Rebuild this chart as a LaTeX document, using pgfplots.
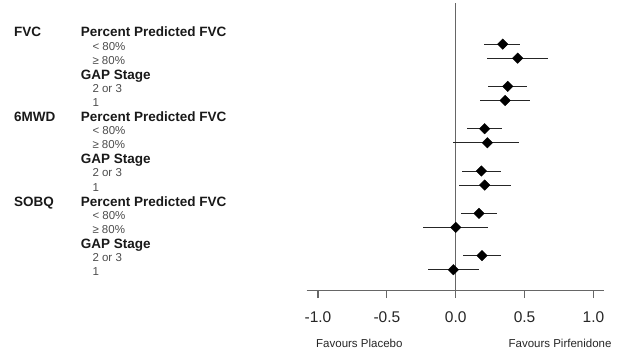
\documentclass[border=0pt]{standalone}
\usepackage{pgfplots}
\pgfplotsset{compat=1.18}
\usepackage{pgfplotstable}
\usepackage{fontspec}
\setmainfont{Liberation Sans}
\pgfplotstableread{
row est lo hi
-1  0.341 0.208 0.467
-2  0.450 0.225 0.668
-4  0.378 0.237 0.520
-5  0.358 0.176 0.542
-7  0.210 0.080 0.339
-8  0.230 -0.017 0.460
-10 0.186 0.048 0.327
-11 0.210 0.026 0.402
-13 0.169 0.038 0.298
-14 0.000 -0.240 0.232
-16 0.191 0.051 0.329
-17 -0.017 -0.199 0.171
}\forest
\newcommand\hdr{\fontsize{13.5bp}{16bp}\selectfont\bfseries}
\newcommand\sub{\fontsize{11.5bp}{13bp}\selectfont}
\begin{document}
\begin{tikzpicture}[x=1bp,y=1bp]
\path[use as bounding box] (0,0) rectangle (625,351);
\begin{axis}[
  at={(306.7bp,60.3bp)}, anchor=south west,
  scale only axis, width=297.6bp, height=287.4bp,
  xmin=-1.082, xmax=1.079,
  ymin=-18.49, ymax=1.894,
  axis x line=bottom, axis y line=none,
  x axis line style={-, draw=black!60, line width=1.2bp},
  xtick={-1,-0.5,0,0.5,1},
  xticklabels={-1.0,-0.5,0.0,0.5,1.0},
  ytick=\empty,
  tick align=outside, major tick length=7.5bp,
  xtick style={draw=black!60, line width=1.2bp},
  xticklabel style={font=\fontsize{15.5bp}{18bp}\selectfont, text=black!85, yshift=-10bp},
  clip=false,
]
\addplot[black!60, line width=1.2bp] coordinates {(0,1.894) (0,-18.49)};
\addplot[only marks, mark=square*, mark size=3.7bp,
  mark options={rotate=45, fill=black, draw=black},
  error bars/.cd, x dir=both, x explicit, error mark=none,
  error bar style={black!85, line width=0.8bp}]
  table[x=est, y=row,
    x error minus expr=\thisrow{est}-\thisrow{lo},
    x error plus expr=\thisrow{hi}-\thisrow{est}] {\forest};
\end{axis}
\begin{scope}[every node/.style={inner sep=0pt, anchor=base west}]
\node[text=black!90] at (14,314.2) {\hdr FVC};
\node[text=black!90] at (14,229.6) {\hdr 6MWD};
\node[text=black!90] at (14,145.0) {\hdr SOBQ};
\foreach \y in {314.2,229.6,145.0} {
  \node[text=black!90] at (80.7,\y) {\hdr Percent Predicted FVC};
}
\foreach \y in {271.9,187.3,102.7} {
  \node[text=black!90] at (80.7,\y) {\hdr GAP Stage};
}
\foreach \y in {301.0,216.4,131.8} {
  \node[text=black!70] at (92.3,\y) {\sub < 80\%};
}
\foreach \y in {286.9,202.3,117.7} {
  \node[text=black!70] at (92.3,\y) {\sub ≥ 80\%};
}
\foreach \y in {258.7,174.1,89.5} {
  \node[text=black!70] at (92.3,\y) {\sub 2 or 3};
}
\foreach \y in {244.6,160.0,75.4} {
  \node[text=black!70] at (92.3,\y) {\sub 1};
}
\node[text=black!85] at (316,3.5) {\fontsize{11.5bp}{13bp}\selectfont Favours Placebo};
\node[text=black!85, anchor=base east] at (611.7,3.5) {\fontsize{11.5bp}{13bp}\selectfont Favours Pirfenidone};
\end{scope}
\end{tikzpicture}
\end{document}
